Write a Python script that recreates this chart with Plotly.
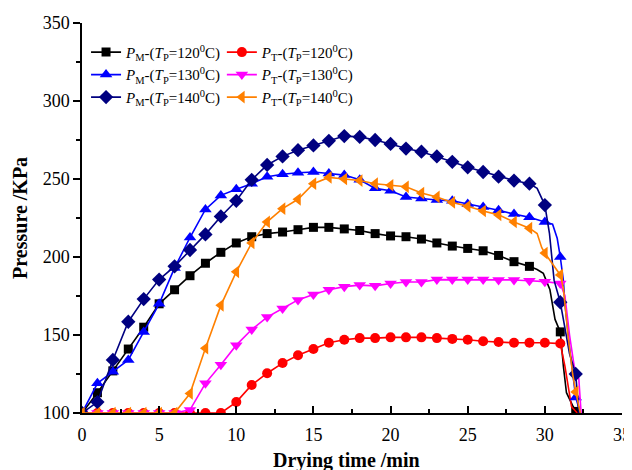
import plotly.graph_objects as go

# ---------------- data ----------------
# P_M (T_P = 120 C) : black squares
pm120_t = [0, 1, 2, 3, 4, 5, 6, 7, 8, 9, 10, 11, 12, 13, 14, 15, 16, 17, 18, 19, 20,
           21, 22, 23, 24, 25, 26, 27, 28, 29, 31, 32]
pm120_p = [100, 113, 127, 141, 155, 170, 179, 188, 196, 203, 209, 213, 215, 216, 217.5, 219, 219,
           218, 217, 215, 213.5, 213, 211.5, 209, 207, 205.5, 204, 201, 197, 194, 152, 101]
pm120_tail_t = [29.5, 29.9, 30.33, 30.66, 31.2, 31.4, 31.84, 32.1]
pm120_tail_p = [192, 189.5, 179, 160, 130, 113, 104, 100]

# P_T (T_P = 120 C) : red circles
pt120_t = list(range(0, 32))
pt120_p = [100, 100, 100, 100, 100, 100, 100, 100, 100, 100, 107, 118, 125.5, 132, 137, 141,
           145, 147, 148, 148, 148.5, 148.5, 148.5, 148, 147.5, 147, 146, 145.5, 145, 145, 145, 144.5]
pt120_tail_t = [31.3, 31.73, 32.1]
pt120_tail_p = [130, 104, 100]

# P_M (T_P = 130 C) : blue up-triangles
pm130_t = list(range(0, 33))
pm130_p = [100, 119, 126.5, 134, 152, 170, 193, 212.5, 230.5, 239.5, 243.5, 247, 251.5, 253, 254,
           254.5, 253.5, 252.5, 249.5, 244, 242.5, 238.5, 237.5, 236.5, 236, 234, 232, 230, 227.5,
           225.5, 222.5, 200, 110]
pm130_tail_t = [30.5, 30.8, 31.2, 31.3, 31.6, 32.3]
pm130_tail_p = [221, 212, 185, 170, 142, 100]

# P_T (T_P = 130 C) : magenta down-triangles
pt130_t = list(range(0, 32))
pt130_p = [100, 100, 100, 100, 100, 100, 100, 102, 119, 131, 143.5, 153.5, 161.5, 167, 172.5, 176,
           179, 181, 182, 181.5, 183, 184, 184, 185.5, 185.5, 185.5, 185.5, 185.3, 185.3, 184.8,
           184.2, 183]
pt130_tail_t = [31.3, 31.6, 31.9, 32.2, 32.35]
pt130_tail_p = [175, 150, 130, 122, 100]

# P_M (T_P = 140 C) : navy diamonds
pm140_t = list(range(0, 33))
pm140_p = [100, 107, 134, 158.5, 173, 185.5, 194, 204.5, 214.5, 226, 236, 249.5, 259, 264.5, 268.5,
           271.5, 274.5, 277.5, 277, 275, 272.5, 269.5, 267.5, 264.5, 261, 257.5, 254.5, 251.5,
           249, 247, 233.3, 171, 125]
pm140_tail_t = [29.5, 30.3, 30.6, 31.2, 31.6, 32.2]
pm140_tail_p = [244, 215, 185, 160, 138, 100]

# P_T (T_P = 140 C) : orange left-triangles
pt140_t = list(range(0, 33))
pt140_p = [100, 100, 100, 100, 100, 100, 100, 112.5, 141.5, 169, 190.5, 209, 222.5, 231, 237, 247,
           251, 250, 249, 247, 246, 245, 241, 238.5, 235, 232.5, 229.5, 227, 222.5, 218.5, 202.5,
           188.5, 113.5]
pt140_tail_t = [29.5, 29.8, 31.2, 31.5, 31.8, 32.3]
pt140_tail_p = [215, 206, 180, 150, 125, 100]

series_names = [
    "<i>P</i><sub>M</sub>-(<i>T</i><sub>P</sub>=120<sup>0</sup>C)",
    "<i>P</i><sub>T</sub>-(<i>T</i><sub>P</sub>=120<sup>0</sup>C)",
    "<i>P</i><sub>M</sub>-(<i>T</i><sub>P</sub>=130<sup>0</sup>C)",
    "<i>P</i><sub>T</sub>-(<i>T</i><sub>P</sub>=130<sup>0</sup>C)",
    "<i>P</i><sub>M</sub>-(<i>T</i><sub>P</sub>=140<sup>0</sup>C)",
    "<i>P</i><sub>T</sub>-(<i>T</i><sub>P</sub>=140<sup>0</sup>C)",
]

x_ticks = [0, 5, 10, 15, 20, 25, 30, 35]
y_ticks = [100, 150, 200, 250, 300, 350]
x_title = "Drying time /min"
y_title = "Pressure /KPa"

# ---------------- styling ----------------
FONT = "Times New Roman, Liberation Serif, serif"
colors = ["#000000", "#FF0000", "#0000FF", "#FF00FF", "#000080", "#FF8000"]
symbols = ["square", "circle", "triangle-up", "triangle-down", "diamond", "triangle-left"]
sizes = [9, 10, 11, 11, 11, 11]
legends = ["legend", "legend2", "legend", "legend2", "legend", "legend2"]

series = [
    (pm120_t, pm120_p, pm120_tail_t, pm120_tail_p),
    (pt120_t, pt120_p, pt120_tail_t, pt120_tail_p),
    (pm130_t, pm130_p, pm130_tail_t, pm130_tail_p),
    (pt130_t, pt130_p, pt130_tail_t, pt130_tail_p),
    (pm140_t, pm140_p, pm140_tail_t, pm140_tail_p),
    (pt140_t, pt140_p, pt140_tail_t, pt140_tail_p),
]

fig = go.Figure()
for i, (mt, mp, tt, tp) in enumerate(series):
    pts = sorted(list(zip(mt, mp)) + list(zip(tt, tp)))
    lx = [a for a, _ in pts]
    ly = [b for _, b in pts]
    fig.add_trace(go.Scatter(x=lx, y=ly, mode="lines", showlegend=False,
                             line=dict(color=colors[i], width=1.6), hoverinfo="skip"))
    fig.add_trace(go.Scatter(x=mt, y=mp, mode="markers", showlegend=False,
                             marker=dict(symbol=symbols[i], size=sizes[i], color=colors[i],
                                         line=dict(width=0))))
    fig.add_trace(go.Scatter(x=[None], y=[None], mode="lines+markers", name=series_names[i],
                             legend=legends[i],
                             line=dict(color=colors[i], width=1.6),
                             marker=dict(symbol=symbols[i], size=sizes[i], color=colors[i],
                                         line=dict(width=0))))

# the page body has an 8px margin, so the figure is drawn 8px in from the window corner
fig.update_layout(
    width=624, height=462,
    margin=dict(l=74, r=10, t=15, b=57),
    paper_bgcolor="white", plot_bgcolor="white",
    font=dict(family=FONT, size=16, color="black"),
    legend=dict(x=0.0075, y=0.967, xanchor="left", yanchor="top", bgcolor="rgba(0,0,0,0)",
                font=dict(family=FONT, size=15), tracegroupgap=0, itemwidth=30,
                orientation="v"),
    legend2=dict(x=0.259, y=0.967, xanchor="left", yanchor="top", bgcolor="rgba(0,0,0,0)",
                 font=dict(family=FONT, size=15), tracegroupgap=0, itemwidth=30,
                 orientation="v"),
    xaxis=dict(range=[0, 35], tickvals=x_ticks, ticktext=[str(v) for v in x_ticks],
               automargin=False,
               showgrid=False, zeroline=False, showline=True, linecolor="black", linewidth=1.5,
               ticks="inside", ticklen=7, tickwidth=1.5, tickcolor="black",
               ticklabelstandoff=5,
               minor=dict(dtick=2.5, ticks="inside", ticklen=4, tickwidth=1.5, tickcolor="black"),
               tickfont=dict(family=FONT, size=18)),
    yaxis=dict(range=[100, 350], tickvals=y_ticks, ticktext=[str(v) for v in y_ticks],
               automargin=False,
               showgrid=False, zeroline=False, showline=True, linecolor="black", linewidth=1.5,
               ticks="outside", ticklen=7, tickwidth=1.5, tickcolor="black",
               minor=dict(dtick=25, ticks="outside", ticklen=4, tickwidth=1.5, tickcolor="black"),
               tickfont=dict(family=FONT, size=18)),
    annotations=[
        dict(text="<b>" + x_title + "</b>", xref="paper", yref="paper", x=0.49, y=-0.123,
             xanchor="center", yanchor="middle", showarrow=False,
             font=dict(family=FONT, size=20)),
        dict(text="<b>" + y_title + "</b>", xref="paper", yref="paper", x=-0.115, y=0.5,
             xanchor="center", yanchor="middle", showarrow=False, textangle=-90,
             font=dict(family=FONT, size=20)),
    ],
)

fig.write_html("out.html")
